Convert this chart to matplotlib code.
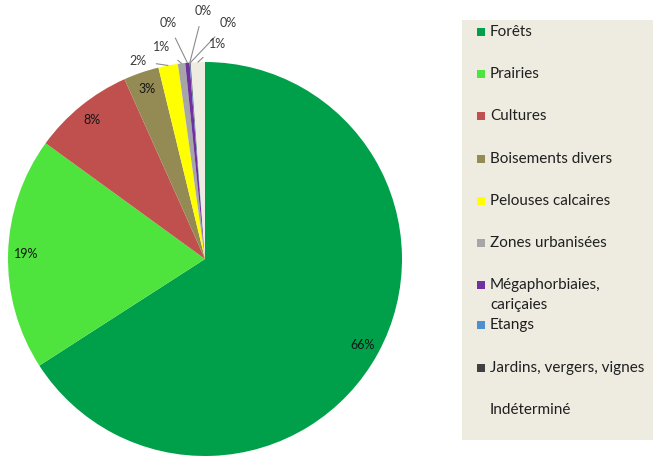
import numpy as np
import matplotlib
matplotlib.use("Agg")
import matplotlib.pyplot as plt
from matplotlib.patches import Rectangle

plt.rcParams['font.family'] = ['Lato', 'DejaVu Sans']

# land cover shares (%)
categories = ["Forêts", "Prairies", "Cultures", "Boisements divers",
              "Pelouses calcaires", "Zones urbanisées",
              "Mégaphorbiaies,\ncariçaies", "Etangs",
              "Jardins, vergers, vignes", "Indéterminé"]
shares = [65.9, 19.1, 8.3, 2.9, 1.6, 0.6, 0.35, 0.05, 0.05, 1.15]
colors = ["#00A04A", "#4FE33D", "#C0504D", "#948A54", "#FFFF00",
          "#A6A6A6", "#7030A0", "#4F8FD0", "#404040", "#EEECE1"]

# where the small outside labels sit (figure pixels, from the top-left)
outside_text = {4: (138, 61), 5: (162, 47), 6: (168, 23),
                7: (203, 11), 8: (228, 23), 9: (218, 44)}

W, H = 653, 458
fig = plt.figure(figsize=(W / 100, H / 100), dpi=100)

cx, cy, R = 205, 259, 197
ax = fig.add_axes([(cx - R) / W, (H - cy - R) / H, 2 * R / W, 2 * R / H])
wedges, _ = ax.pie(shares, colors=colors, startangle=90, counterclock=False,
                   wedgeprops=dict(linewidth=0))
ax.set_xlim(-1, 1)
ax.set_ylim(-1, 1)
ax.axis("off")

for i, w in enumerate(wedges):
    pct = "%d%%" % round(shares[i])
    mid = np.deg2rad((w.theta1 + w.theta2) / 2)
    if i in outside_text:
        tx, ty = outside_text[i]
        ax.annotate(pct, xy=(np.cos(mid), np.sin(mid)),
                    xytext=(tx, H - ty), textcoords="figure pixels",
                    ha="center", va="center", fontsize=9, color="#3a3a3a",
                    arrowprops=dict(arrowstyle="-", color="#8c8c8c", lw=0.8,
                                    shrinkA=5, shrinkB=0),
                    annotation_clip=False)
    else:
        ax.text(0.91 * np.cos(mid), 0.91 * np.sin(mid), pct,
                ha="center", va="center", fontsize=9, color="#141414")

# legend panel drawn by hand so the two-line entry keeps its slot
fig.patches.append(Rectangle((462 / W, (H - 440) / H), (W - 462) / W, 420 / H,
                             transform=fig.transFigure, facecolor="#EEECE1",
                             edgecolor="none", zorder=0))
y0, step = 32, 42.2
for i, (lab, col) in enumerate(zip(categories, colors)):
    y = y0 + i * step
    if i >= 7:
        y -= 2
    fig.patches.append(Rectangle((477 / W, (H - y - 4) / H), 8 / W, 8 / H,
                                 transform=fig.transFigure, facecolor=col,
                                 edgecolor="none", zorder=1))
    fig.text(490 / W, (H - y) / H, lab.split("\n")[0], ha="left", va="center",
             fontsize=11, color="#1f1f1f")
    if "\n" in lab:
        fig.text(490 / W, (H - y - 20) / H, lab.split("\n")[1], ha="left",
                 va="center", fontsize=11, color="#1f1f1f")

plt.savefig("out.png", dpi=100)
